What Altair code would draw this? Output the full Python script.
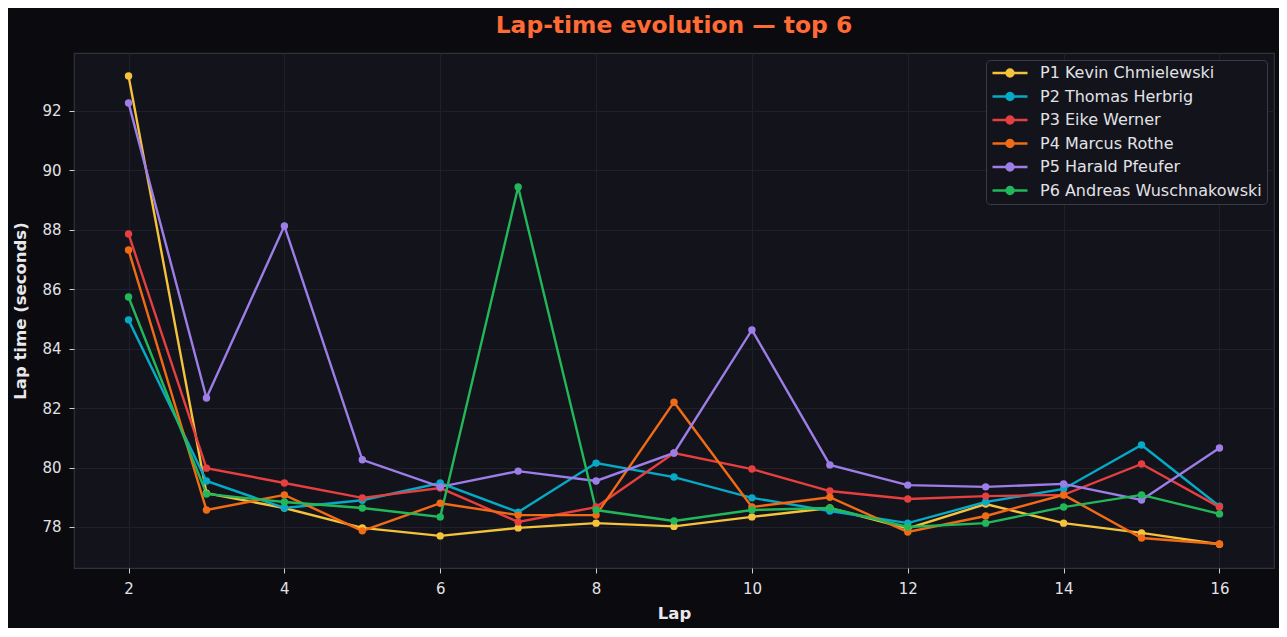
import altair as alt
import pandas as pd

laps = list(range(2, 17))
drivers = [
    "P1 Kevin Chmielewski",
    "P2 Thomas Herbrig",
    "P3 Eike Werner",
    "P4 Marcus Rothe",
    "P5 Harald Pfeufer",
    "P6 Andreas Wuschnakowski",
]
colors = ["#f5c33b", "#06a9c6", "#e53f3f", "#f06b15", "#9d7ee8", "#22b85a"]

p1 = [93.18, 79.14, 78.64, 77.97, 77.70, 77.97, 78.13, 78.02, 78.34, 78.64, 77.95, 78.77, 78.13, 77.80, 77.42]
p2 = [84.97, 79.55, 78.64, 78.90, 79.48, 78.50, 80.15, 79.68, 78.98, 78.54, 78.13, 78.84, 79.28, 80.76, 78.70]
p3 = [87.86, 79.98, 79.48, 78.98, 79.31, 78.17, 78.67, 80.49, 79.95, 79.21, 78.94, 79.04, 79.08, 80.12, 78.67]
p4 = [87.32, 78.57, 79.08, 77.87, 78.80, 78.40, 78.40, 82.20, 78.67, 79.00, 77.83, 78.37, 79.08, 77.63, 77.43]
p5 = [92.27, 82.34, 88.13, 80.26, 79.35, 79.88, 79.55, 80.49, 84.63, 80.09, 79.41, 79.35, 79.45, 78.91, 80.66]
p6 = [85.74, 79.11, 78.84, 78.64, 78.34, 89.44, 78.57, 78.20, 78.57, 78.64, 78.00, 78.13, 78.67, 79.08, 78.44]

series = [p1, p2, p3, p4, p5, p6]
rows = []
for name, vals in zip(drivers, series):
    for lap, v in zip(laps, vals):
        rows.append({"Lap": lap, "Time": v, "Driver": name})
df = pd.DataFrame(rows)

# line with a dot, drawn as a custom legend symbol (unit box 5px)
legend_symbol = (
    "M-1.3,0L5.7,0"
    "M1.5,0a0.7,0.7 0 1,0 1.4,0a0.7,0.7 0 1,0 -1.4,0"
    "M1.88,0a0.32,0.32 0 1,0 0.64,0a0.32,0.32 0 1,0 -0.64,0"
)

color = alt.Color(
    "Driver:N",
    scale=alt.Scale(domain=drivers, range=colors),
    sort=drivers,
    legend=alt.Legend(
        title=None,
        orient="top-right",
        offset=7,
        fillColor="#12131b",
        strokeColor="#3a3b46",
        cornerRadius=4,
        padding=5,
        labelFont="DejaVu Sans",
        labelFontSize=16,
        labelColor="#e2e2e6",
        labelLimit=400,
        labelOffset=33,
        rowPadding=5.5,
        symbolType=legend_symbol,
        symbolSize=100,
        symbolStrokeWidth=2.4,
    ),
)

x = alt.X(
    "Lap:Q",
    scale=alt.Scale(domain=[1.3, 16.7], nice=False, zero=False),
    axis=alt.Axis(values=[2, 4, 6, 8, 10, 12, 14, 16], title="Lap", format="d"),
)
y = alt.Y(
    "Time:Q",
    scale=alt.Scale(domain=[76.62, 93.95], nice=False, zero=False),
    axis=alt.Axis(values=[78, 80, 82, 84, 86, 88, 90, 92], title="Lap time (seconds)", format="d"),
)

lines = alt.Chart(df).mark_line(strokeWidth=2.4).encode(x=x, y=y, color=color, detail="Driver:N")
points = alt.Chart(df).mark_circle(size=55, opacity=1).encode(
    x=x, y=y,
    color=alt.Color("Driver:N", scale=alt.Scale(domain=drivers, range=colors), legend=None),
)

chart = (
    alt.layer(lines, points)
    .properties(
        width=1200,
        height=515,
        background="#0a0a0f",
        padding={"left": 66, "top": 45, "right": 5, "bottom": 60},
        autosize=alt.AutoSizeParams(type="none"),
        title=alt.Title(
            "Lap-time evolution — top 6",
            font="DejaVu Sans",
            fontSize=23.4,
            fontWeight="bold",
            color="#ff6a35",
            offset=15,
            anchor="middle",
        ),
    )
    .configure_view(fill="#12131b", stroke="#30313c", strokeWidth=1.2)
    .configure_axis(
        domain=False,
        grid=True,
        gridColor="#1f2029",
        gridWidth=1,
        tickColor="#cfcfd6",
        tickSize=5,
        tickWidth=1,
        labelFont="DejaVu Sans",
        labelFontSize=15,
        labelColor="#e2e2e6",
        labelPadding=8,
        titleFont="DejaVu Sans",
        titleFontSize=16.5,
        titleFontWeight="bold",
        titleColor="#e8e8ec",
    )
    .configure_axisX(titlePadding=9)
    .configure_axisY(titlePadding=13)
)

chart.save("out.html", embed_options={"renderer": "svg", "actions": False})
